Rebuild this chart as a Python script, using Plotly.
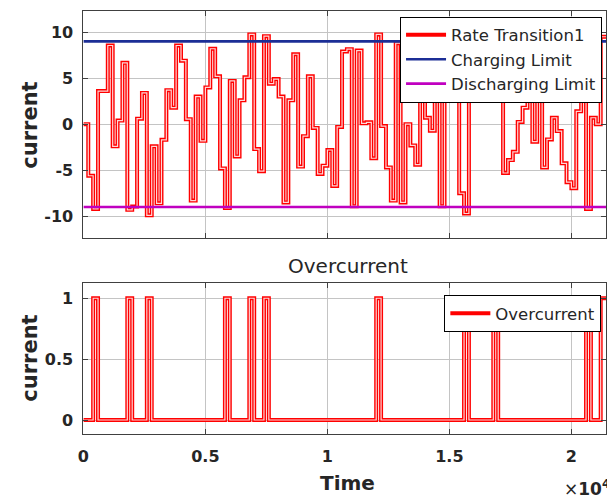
import plotly.graph_objects as go

# ---------------- data ----------------
sample_time = 200  # step interval of the rate-transition signal
rate_transition = [
    0.0, -5.6, -9.2, 3.6, 3.6, 8.55, -2.4, 0.4, 6.67, -9.3,
    -8.95, 0.6, 3.4, -9.9, -2.4, -8.6, -1.7, 3.7, 1.8, 8.55,
    6.9, 0.55, -8.3, 3.0, -1.8, 4.0, 8.2, 5.2, -4.8, -9.1,
    4.7, -3.5, 2.6, 5.1, 9.75, -2.7, -5.1, 9.56, 4.4, 4.9,
    3.0, -8.5, 2.6, 7.6, -4.6, -1.3, 5.2, -0.4, -5.4, -4.5,
    -2.8, -6.7, -0.3, 7.9, 8.15, -8.9, 8.0, 0.1, 0.2, -3.7,
    9.75, -0.2, -4.7, -8.3, 8.8, -8.5, 0.0, -2.3, -4.4, 6.2,
    0.7, -0.7, 4.5, -8.9, 7.8, 5.6, 4.1, -7.5, -9.7, 6.8,
    8.3, 2.8, 5.0, 7.2, 9.6, 4.8, -5.3, -3.9, -3.0, 0.25,
    1.8, 5.9, -1.9, 6.5, -4.7, -1.65, 0.7, -0.75, -4.25, -6.3,
    -6.95, 1.4, 8.2, -9.2, 0.7, 0.0, 9.5,
]
overcurrent = [
    0, 0, 1, 0, 0, 0, 0, 0, 0, 1,
    0, 0, 0, 1, 0, 0, 0, 0, 0, 0,
    0, 0, 0, 0, 0, 0, 0, 0, 0, 1,
    0, 0, 0, 0, 1, 0, 0, 1, 0, 0,
    0, 0, 0, 0, 0, 0, 0, 0, 0, 0,
    0, 0, 0, 0, 0, 0, 0, 0, 0, 0,
    1, 0, 0, 0, 0, 0, 0, 0, 0, 0,
    0, 0, 0, 0, 0, 0, 0, 0, 1, 0,
    0, 0, 0, 0, 1, 0, 0, 0, 0, 0,
    0, 0, 0, 0, 0, 0, 0, 0, 0, 0,
    0, 0, 0, 1, 0, 0, 1,
]
charging_limit = 9
discharging_limit = -9
x_end = 21418

x_tickvals = [0, 5000, 10000, 15000, 20000]
x_ticktext = ["0", "0.5", "1", "1.5", "2"]
y1_tickvals = [-10, -5, 0, 5, 10]
y1_ticktext = ["-10", "-5", "0", "5", "10"]
y2_tickvals = [0, 0.5, 1]
y2_ticktext = ["0", "0.5", "1"]

# ---------------- build ----------------
t = [i * sample_time for i in range(len(rate_transition))] + [x_end]
rt = rate_transition + [rate_transition[-1]]
oc = overcurrent + [overcurrent[-1]]

W, H = 607, 498
def fx(p):
    return p / W
def fy(p):
    return 1 - p / H

RED = "#ff0000"
INNER = "#ffd6d6"
BLUE = "#1c2e96"
MAG = "#c000c0"
FRAME = "#404040"
GRID = "#c4c4c4"
TXT = "#262626"
FONT = "DejaVu Sans"

fig = go.Figure()

fig.add_trace(go.Scatter(x=t, y=rt, mode="lines", line=dict(color=RED, width=4.0, shape="hv"),
                         name="Rate Transition1", legend="legend", xaxis="x", yaxis="y"))
fig.add_trace(go.Scatter(x=t, y=rt, mode="lines", line=dict(color=INNER, width=1.2, shape="hv"),
                         showlegend=False, hoverinfo="skip", xaxis="x", yaxis="y"))
fig.add_trace(go.Scatter(x=[0, x_end], y=[charging_limit, charging_limit], mode="lines",
                         line=dict(color=BLUE, width=2.6), name="Charging Limit",
                         legend="legend", xaxis="x", yaxis="y"))
fig.add_trace(go.Scatter(x=[0, x_end], y=[discharging_limit, discharging_limit], mode="lines",
                         line=dict(color=MAG, width=2.6), name="Discharging Limit",
                         legend="legend", xaxis="x", yaxis="y"))

fig.add_trace(go.Scatter(x=t, y=oc, mode="lines", line=dict(color=RED, width=4.0, shape="hv"),
                         name="Overcurrent", legend="legend2", xaxis="x2", yaxis="y2"))
fig.add_trace(go.Scatter(x=t, y=oc, mode="lines", line=dict(color=INNER, width=1.2, shape="hv"),
                         showlegend=False, hoverinfo="skip", xaxis="x2", yaxis="y2"))

common_axis = dict(showline=True, mirror="ticks", linecolor=FRAME, linewidth=1,
                   showgrid=True, gridcolor=GRID, gridwidth=1, zeroline=False,
                   ticks="inside", ticklen=5, tickcolor=FRAME,
                   tickfont=dict(family=FONT, size=16, color=TXT, weight="bold"))

xdom = [fx(78.3), 1.0]
fig.update_layout(
    width=W, height=H, autosize=False,
    margin=dict(l=0, r=0, t=0, b=0),
    paper_bgcolor="white", plot_bgcolor="white",
    font=dict(family=FONT, color=TXT),
    xaxis=dict(domain=xdom, anchor="y", range=[0, x_end], tickvals=x_tickvals,
               showticklabels=False, **common_axis),
    yaxis=dict(domain=[fy(237.7), fy(11)], anchor="x", range=[-12.33, 12.3],
               tickvals=y1_tickvals, ticktext=y1_ticktext, ticklabelstandoff=6, **common_axis),
    xaxis2=dict(domain=xdom, anchor="y2", range=[0, x_end], tickvals=x_tickvals,
                ticktext=x_ticktext, ticklabelstandoff=8, **common_axis),
    yaxis2=dict(domain=[fy(434), fy(283.3)], anchor="x2", range=[-0.115, 1.123],
                tickvals=y2_tickvals, ticktext=y2_ticktext, ticklabelstandoff=6, **common_axis),
    legend=dict(x=fx(603), y=fy(16.5), xanchor="right", yanchor="top",
                bgcolor="white", bordercolor="#000000", borderwidth=1, itemwidth=40,
                font=dict(family=FONT, size=16.5, color=TXT), tracegroupgap=0),
    legend2=dict(x=fx(602.3), y=fy(295), xanchor="right", yanchor="top",
                 bgcolor="white", bordercolor="#000000", borderwidth=1, itemwidth=40,
                 font=dict(family=FONT, size=16.5, color=TXT)),
    showlegend=True,
)

annos = [
    dict(text="Overcurrent", x=fx(346), y=fy(266), font=dict(size=20, color=TXT, family=FONT)),
    dict(text="<b>Time</b>", x=fx(345), y=fy(483), font=dict(size=20, color=TXT, family=FONT)),
    dict(text="<b>current</b>", x=fx(24), y=fy(125), textangle=-90,
         font=dict(size=21, color=TXT, family=FONT)),
    dict(text="<b>current</b>", x=fx(24), y=fy(358), textangle=-90,
         font=dict(size=21, color=TXT, family=FONT)),
]
for a in annos:
    fig.add_annotation(xref="paper", yref="paper", showarrow=False,
                       xanchor="center", yanchor="middle", **a)
fig.add_annotation(xref="paper", yref="paper", showarrow=False, xanchor="left", yanchor="middle",
                   x=fx(562), y=fy(488), text="×<b>10</b><sup><b>4</b></sup>",
                   font=dict(size=17, color=TXT, family=FONT))

fig.write_html("out.html", config={"displayModeBar": False},
               post_script="document.body.style.margin='0';document.body.style.overflow='hidden';")
